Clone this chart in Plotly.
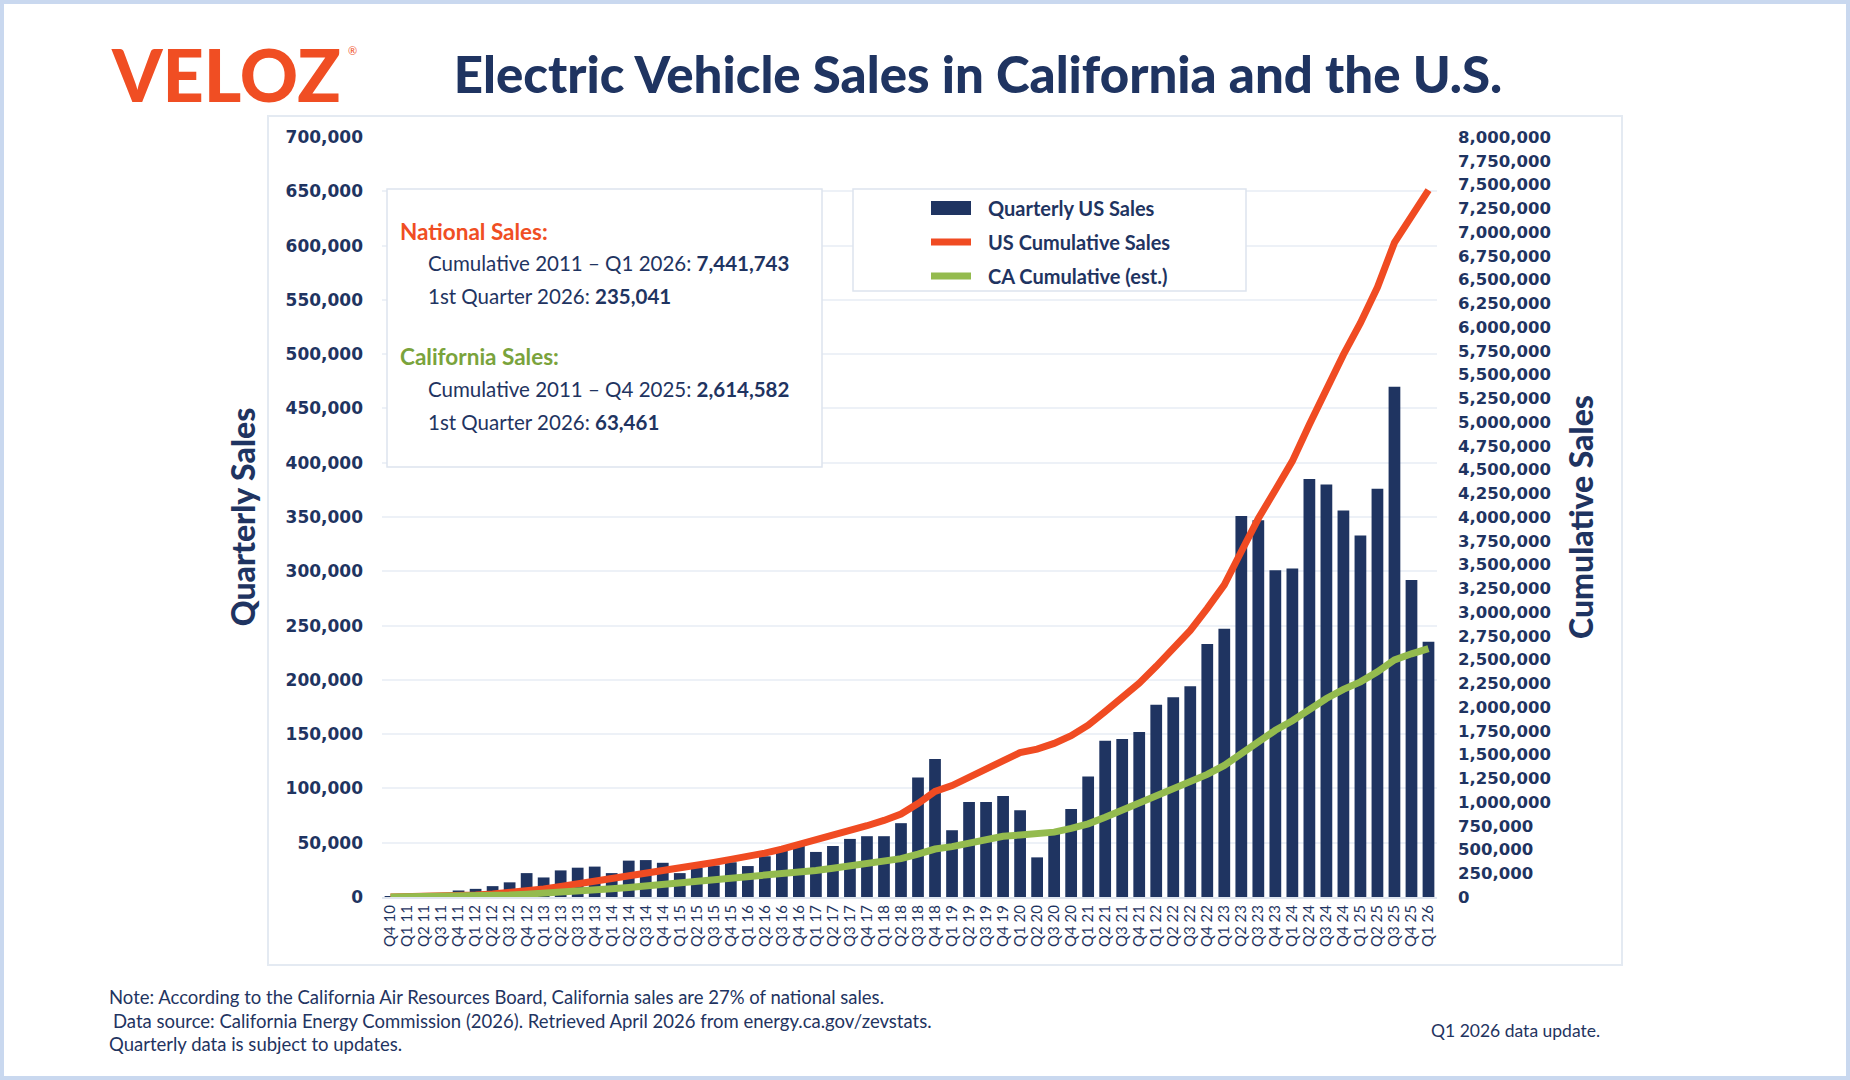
import plotly.graph_objects as go

# ---------------- data ----------------
quarters = ["Q4 10",
            "Q1 11", "Q2 11", "Q3 11", "Q4 11",
            "Q1 12", "Q2 12", "Q3 12", "Q4 12",
            "Q1 13", "Q2 13", "Q3 13", "Q4 13",
            "Q1 14", "Q2 14", "Q3 14", "Q4 14",
            "Q1 15", "Q2 15", "Q3 15", "Q4 15",
            "Q1 16", "Q2 16", "Q3 16", "Q4 16",
            "Q1 17", "Q2 17", "Q3 17", "Q4 17",
            "Q1 18", "Q2 18", "Q3 18", "Q4 18",
            "Q1 19", "Q2 19", "Q3 19", "Q4 19",
            "Q1 20", "Q2 20", "Q3 20", "Q4 20",
            "Q1 21", "Q2 21", "Q3 21", "Q4 21",
            "Q1 22", "Q2 22", "Q3 22", "Q4 22",
            "Q1 23", "Q2 23", "Q3 23", "Q4 23",
            "Q1 24", "Q2 24", "Q3 24", "Q4 24",
            "Q1 25", "Q2 25", "Q3 25", "Q4 25",
            "Q1 26"]

us_quarterly = [300,
                1500, 2600, 3600, 6000,
                7500, 10000, 13500, 22000,
                18000, 24500, 27000, 28000,
                22000, 33500, 34000, 31500,
                22000, 27000, 29000, 32000,
                28500, 37500, 43000, 47500,
                41500, 47000, 53500, 56000,
                56000, 68000, 110000, 127000,
                61500, 87500, 87500, 93000,
                80000, 36500, 60000, 81000,
                111000, 144000, 145500, 152000,
                177000, 184000, 194000, 233000,
                247000, 351000, 347000, 301000,
                302500, 385000, 380000, 356000,
                333000, 376000, 470000, 292000,
                235041]

us_cumulative = [300,
                 1800, 4400, 8000, 14000,
                 21500, 31500, 45000, 67000,
                 85000, 110000, 137000, 165000,
                 187000, 220000, 254000, 286000,
                 308000, 335000, 364000, 396000,
                 424000, 462000, 505000, 552000,
                 594000, 641000, 694000, 750000,
                 806000, 874000, 984000, 1111000,
                 1173000, 1260000, 1348000, 1441000,
                 1521000, 1557000, 1617000, 1698000,
                 1809000, 1953000, 2099000, 2251000,
                 2428000, 2612000, 2806000, 3039000,
                 3286000, 3637000, 3984000, 4285000,
                 4588000, 4973000, 5353000, 5709000,
                 6042000, 6418000, 6888000, 7180000,
                 7441743]

ca_cumulative = [100,
                 1000, 2000, 4000, 7000,
                 11000, 15000, 21000, 30000,
                 38000, 50000, 62000, 75000,
                 86000, 100000, 116000, 131000,
                 142000, 155000, 169000, 185000,
                 199000, 217000, 238000, 260000,
                 280000, 302000, 326000, 350000,
                 374000, 404000, 452000, 505000,
                 530000, 567000, 603000, 640000,
                 652000, 660000, 683000, 722000,
                 770000, 840000, 915000, 990000,
                 1065000, 1130000, 1200000, 1290000,
                 1385000, 1515000, 1640000, 1755000,
                 1855000, 1980000, 2090000, 2185000,
                 2265000, 2370000, 2495000, 2560000,
                 2615000]

series_names = ["Quarterly US Sales", "US Cumulative Sales", "CA Cumulative (est.)"]

# ---------------- style ----------------
NAVY = "#1f3461"
RED = "#f04b22"
GREEN = "#94bb4e"
GREEN_TXT = "#7aa33c"
GRID = "#edf1f7"
BOX_LINE = "#dde4ee"

W, H = 1850, 1080
L, R, T, B = 382, 1437, 137, 897   # plot area in pixels


def px(x):
    return (x - L) / (R - L)


def py(y):
    return (B - y) / (B - T)


fig = go.Figure()
fig.add_bar(x=quarters, y=us_quarterly, name=series_names[0],
            marker=dict(color=NAVY, line=dict(width=0)), yaxis="y")
fig.add_scatter(x=quarters, y=us_cumulative, name=series_names[1], mode="lines",
                line=dict(color=RED, width=7), yaxis="y2")
fig.add_scatter(x=quarters, y=ca_cumulative, name=series_names[2], mode="lines",
                line=dict(color=GREEN, width=7), yaxis="y2")

fig.update_layout(
    width=W, height=H,
    margin=dict(l=L, r=W - R, t=T, b=H - B, pad=0),
    paper_bgcolor="white", plot_bgcolor="white",
    showlegend=False,
    bargap=0.31,
    title=dict(text="Electric Vehicle Sales in California and the U.S.",
               font=dict(family="Lato", size=51, color=NAVY, weight=900),
               xref="container", yref="container",
               x=978 / W, y=1 - 75 / H, xanchor="center", yanchor="middle"),
    xaxis=dict(type="category", tickangle=-90, range=[-0.5, len(quarters) - 0.5],
               tickmode="linear", tick0=0, dtick=1,
               tickfont=dict(family="Lato", size=15, color=NAVY),
               showgrid=False, zeroline=False, showline=True,
               linecolor="#dfe5ee", linewidth=2, ticks=""),
    yaxis=dict(range=[0, 700000], dtick=50000, tickformat=",",
               gridcolor=GRID, gridwidth=2, zeroline=False, showline=False,
               tickfont=dict(family="DejaVu Sans", size=17, color=NAVY, weight="bold"),
               ticklabelstandoff=18,
               title=dict(text="Quarterly Sales", standoff=20,
                          font=dict(family="Lato", size=32, color=NAVY, weight=900))),
    yaxis2=dict(overlaying="y", side="right", range=[0, 8000000], dtick=250000,
                tickformat=",", showgrid=False, zeroline=False, showline=False,
                tickfont=dict(family="DejaVu Sans", size=16.5, color=NAVY, weight="bold"),
                ticklabelstandoff=20,
                title=dict(text="Cumulative Sales", standoff=20,
                           font=dict(family="Lato", size=32, color=NAVY, weight=900))),
)

shapes = []
# outer page border
shapes.append(dict(type="rect", xref="paper", yref="paper",
                   x0=px(2), x1=px(W - 2), y0=py(2), y1=py(H - 2),
                   line=dict(color="#c9d8ef", width=4), fillcolor="rgba(0,0,0,0)",
                   layer="below"))
# chart card
shapes.append(dict(type="rect", xref="paper", yref="paper",
                   x0=px(268), x1=px(1622), y0=py(116), y1=py(965),
                   line=dict(color="#e4eaf2", width=2), fillcolor="white",
                   layer="below"))
# info box
shapes.append(dict(type="rect", xref="paper", yref="paper",
                   x0=px(387), x1=px(822), y0=py(189), y1=py(467),
                   line=dict(color=BOX_LINE, width=1.5), fillcolor="white",
                   layer="above"))
# legend box
shapes.append(dict(type="rect", xref="paper", yref="paper",
                   x0=px(853), x1=px(1246), y0=py(189), y1=py(291),
                   line=dict(color=BOX_LINE, width=1.5), fillcolor="white",
                   layer="above"))
# legend swatches
legend_rows = [(208, 14, NAVY), (242, 7, RED), (276, 7, GREEN)]
for (yc, hh, col) in legend_rows:
    shapes.append(dict(type="rect", xref="paper", yref="paper",
                       x0=px(931), x1=px(971), y0=py(yc - hh / 2), y1=py(yc + hh / 2),
                       line=dict(width=0), fillcolor=col, layer="above"))
fig.update_layout(shapes=shapes)

ann = []


def text(x, y, s, size, color=NAVY, weight=None, family="Lato", xanchor="left"):
    f = dict(family=family, size=size, color=color)
    if weight is not None:
        f["weight"] = weight
    ann.append(dict(xref="paper", yref="paper", x=px(x), y=py(y), text=s,
                    showarrow=False, xanchor=xanchor, yanchor="middle",
                    font=f, align="left"))


# logo
text(226, 74, "VELOZ", 72, color="#f04e23", weight=900, xanchor="center")
text(352, 51, "®", 11, color="#f04e23", xanchor="center")

# legend labels
for (yc, _, _), name in zip(legend_rows, series_names):
    text(986, yc, name, 20, weight=700)

# info box
text(398, 231, "National Sales:", 22.5, color="#f04e23", weight=700)
text(426, 263, "Cumulative 2011 – Q1 2026: <b>7,441,743</b>", 20.5)
text(426, 296, "1st Quarter 2026: <b>235,041</b>", 20.5)
text(398, 356, "California Sales:", 22.5, color=GREEN_TXT, weight=700)
text(426, 389, "Cumulative 2011 – Q4 2025: <b>2,614,582</b>", 20.5)
text(426, 422, "1st Quarter 2026: <b>63,461</b>", 20.5)

# footer
text(107, 997, "Note: According to the California Air Resources Board, California sales are 27% of national sales.", 18.5)
text(111, 1021, "Data source: California Energy Commission (2026). Retrieved April 2026 from energy.ca.gov/zevstats.", 18.5)
text(107, 1044, "Quarterly data is subject to updates.", 18.5)
text(1602, 1030, "Q1 2026 data update.", 17.5, xanchor="right")

fig.update_layout(annotations=ann)

fig.write_html("out.html",
               config={"displayModeBar": False},
               post_script="document.body.style.margin='0';document.body.style.overflow='hidden';")
